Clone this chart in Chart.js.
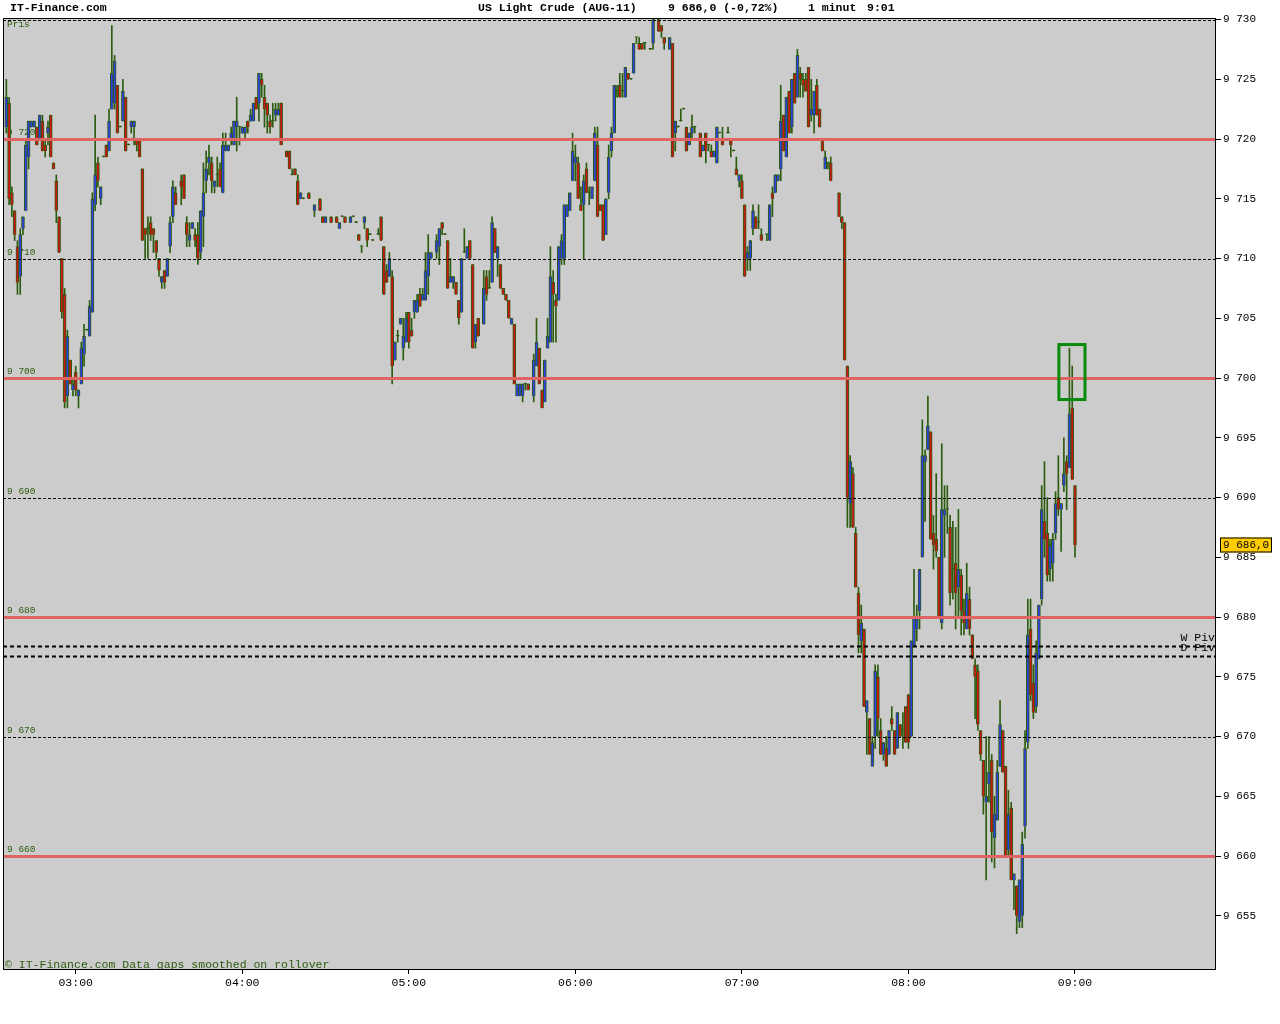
<!DOCTYPE html>
<html>
<head>
<meta charset="utf-8">
<title>US Light Crude (AUG-11) - 1 minut</title>
<script src="https://cdn.jsdelivr.net/npm/chart.js@4.4.0/dist/chart.umd.min.js"></script>
<style>
  html, body { margin: 0; padding: 0; background: #fff; }
  canvas { display: block; }
</style>
</head>
<body>
<canvas id="crudeChart" width="1280" height="1024"></canvas>
<script>
// first 1-minute bar is 02:35 (minutes after midnight)
const firstMinute = 155;

// [open, high, low, close] per minute, null = no trade that minute
const bars0235 = [
  [9721,9725,9720.5,9723.5],[9723,9723.5,9714.5,9715],[9715.5,9716,9713.5,9714.5],[9714,9714,9711.5,9712],[9711,9711.5,9707,9708],
  [9708.5,9712.5,9707,9712],[9712.5,9713.5,9712,9713.5],[9714,9720,9714,9719.5],[9718.5,9721.5,9717.5,9721.5],[9721,9721.5,9721,9721.5],
  [9721,9721.5,9721,9721.5],[9721,9721,9719.5,9719.5],[9720,9722,9720,9722],[9721.5,9722,9719,9719],[9719.5,9720,9718.5,9719],
  [9720.5,9721.5,9719.5,9721],[9722,9722,9718.5,9718.5],[9718,9718,9717.5,9717.5],[9716.5,9717,9713,9714],[9713.5,9713.5,9710.5,9710.5],
  [9710,9710,9705,9705.5],[9707,9707.5,9697.5,9698],[9698.5,9704,9697.5,9703.5],[9701.5,9701.5,9699.5,9699.5],[9699,9700,9698.5,9699.5]
];
const bars0300 = [
  [9700.5,9701,9698.5,9699],[9698.5,9699,9697.5,9699],[9699.5,9703,9699.5,9702.5],[9702,9704.5,9701,9703.5],[9704,9704,9704,9704],
  [9703.5,9706.5,9703.5,9706],[9705.5,9715.5,9705.5,9715],[9714.5,9722,9714,9717],[9718,9718.5,9716,9716.5],[9715,9716,9714.5,9716],
  [9718.5,9718.5,9718.5,9718.5],[9719.5,9719.5,9718.5,9718.5],[9719,9722.5,9719,9721.5],[9722.5,9729.5,9722.5,9725.5],[9723,9727,9722.5,9726.5],
  [9724.5,9724.5,9720.5,9720.5],[9721,9721,9721,9721],[9721.5,9725,9721.5,9724],[9723.5,9723.5,9719,9719],[9719.5,9719.5,9719.5,9719.5],
  [9721,9721.5,9720.5,9721.5],[9721,9721.5,9719.5,9721.5],[9720,9720,9719,9719.5],[9720,9720,9718.5,9718.5],[9717.5,9717.5,9711.5,9711.5],
  [9712.5,9712.5,9710,9712],[9712.5,9713.5,9710,9712.5],[9713,9713.5,9711.5,9712],[9712.5,9712.5,9710.5,9712],[9711.5,9711.5,9710,9710.5],
  [9710,9710,9708.5,9709],[9708,9708.5,9707.5,9708.5],[9709,9709,9707.5,9708],[9708.5,9710,9708.5,9710],[9711,9713.5,9710.5,9713],
  [9713.5,9716.5,9713,9716],[9715.5,9716,9714.5,9714.5],null,[9716.5,9717,9714.5,9716],[9717,9717,9715,9715],
  [9713,9713.5,9711,9712],[9711.5,9713,9711,9712],[9712.5,9713,9712.5,9713],[9712,9712.5,9711,9711.5],[9712,9713,9709.5,9710],
  [9710.5,9714,9710,9714],[9713.5,9718,9711,9715.5],[9716.5,9719,9715.5,9717.5],[9718,9719.5,9717,9718.5],[9718,9718.5,9715.5,9716.5],
  [9716,9716.5,9715.5,9716.5],[9717,9718.5,9716,9717],[9717.5,9718,9716,9716],[9715.5,9720.5,9715.5,9719.5],[9719,9720.5,9719,9719.5],
  [9719,9719.5,9719,9719.5],[9720,9721,9719.5,9720.5],[9719.5,9721.5,9719.5,9721.5],[9721,9723.5,9719,9721.5],[9721,9721,9719.5,9721]
];
const bars0400 = [
  [9720.5,9721,9720.5,9721],[9720.5,9721,9720,9721],[9721.5,9721.5,9720.5,9721],[9721.5,9722.5,9721.5,9722],[9721.5,9723,9721.5,9723],
  [9723.5,9723.5,9722.5,9722.5],[9723,9725.5,9721.5,9725.5],[9725,9725.5,9723.5,9724.5],[9723.5,9724.5,9721,9722.5],[9723,9723,9720.5,9722],
  [9721.5,9722,9720.5,9721],[9721.5,9723,9721,9721.5],[9722,9723,9721.5,9722.5],[9722,9723,9722,9722.5],[9723,9723,9719.5,9719.5],
  null,[9719,9719,9718.5,9718.5],[9719,9719,9717.5,9717.5],[9717,9717.5,9717,9717],[9717.5,9717.5,9717,9717],
  [9716.5,9717,9714.5,9714.5],[9715,9715.5,9715,9715.5],[9715,9715,9715,9715],null,[9715.5,9715.5,9715,9715],
  null,[9714,9714.5,9713.5,9714.5],null,[9715,9715,9714,9714],[9713.5,9713.5,9713,9713],
  [9713,9713.5,9713,9713.5],null,[9713.5,9713.5,9713,9713],null,[9713.5,9713.5,9713,9713],
  [9712.5,9713,9712.5,9713],[9713.5,9713.5,9713.5,9713.5],[9713.5,9713.5,9713,9713],null,[9713,9713.5,9713,9713.5],
  [9713.5,9713.5,9713.5,9713.5],[9713,9713,9713,9713],[9712,9712,9711.5,9711.5],[9711,9711,9710.5,9711],[9713,9713.5,9712.5,9713.5],
  [9712.5,9712.5,9711,9711.5],[9712,9712,9712,9712],[9711.5,9711.5,9711.5,9711.5],null,[9712,9712.5,9712,9712],
  [9713.5,9713.5,9711.5,9711.5],[9711,9711,9707,9707],[9709,9709.5,9708,9708],[9708.5,9710.5,9708.5,9710],[9708.5,9709,9699.5,9701],
  [9701.5,9703,9701.5,9703],[9703.5,9704,9703,9703.5],[9704.5,9705,9704.5,9705],[9702.5,9705,9701.5,9703.5],[9703,9705.5,9703,9705]
];
const bars0500 = [
  [9705.5,9705.5,9702.5,9703],[9704,9705,9703.5,9703.5],[9705.5,9706.5,9705,9706.5],[9705.5,9707,9705.5,9706.5],[9707,9707.5,9706,9706],
  [9706.5,9707.5,9706.5,9707],[9706.5,9710.5,9706.5,9709],[9708.5,9712,9707,9710.5],[9710,9710.5,9710,9710.5],null,
  [9710.5,9712,9710,9711.5],[9711,9712.5,9709.5,9712.5],[9713,9713,9712,9712.5],[9712,9712,9712,9712],[9711.5,9711.5,9707.5,9707.5],
  [9708,9710,9708,9708.5],[9708,9708.5,9707.5,9708.5],[9708,9708,9707,9707],[9706.5,9706.5,9704.5,9705],[9705.5,9710,9705.5,9710],
  [9710.5,9712.5,9710.5,9710.5],[9710,9711,9710,9711],[9711.5,9711.5,9710,9710],[9709.5,9709.5,9702.5,9702.5],[9703,9704.5,9702.5,9704.5],
  [9705,9705,9703.5,9703.5],null,[9704.5,9709,9704.5,9707.5],[9708.5,9709,9706.5,9707],[9707.5,9709,9707.5,9707.5],
  [9708,9713.5,9708,9713],[9712.5,9712.5,9710.5,9710.5],[9710,9711,9708.5,9711],[9709.5,9709.5,9707.5,9707.5],[9707.5,9707.5,9707,9707],
  [9707,9707,9706.5,9706.5],[9706.5,9706.5,9705,9705],[9704.5,9705,9704.5,9705],[9704.5,9704.5,9699.5,9699.5],[9698.5,9699.5,9698.5,9699.5],
  [9698.5,9699.5,9698.5,9699.5],[9698.5,9699.5,9698,9699.5],[9699.5,9699.5,9699,9699.5],[9699.5,9699.5,9699,9699],null,
  [9698.5,9702,9698,9701.5],[9701,9705,9701,9703],[9702.5,9702.5,9699.5,9699.5],[9699,9699,9697.5,9697.5],[9698,9701.5,9698,9701.5],
  [9702.5,9705,9702.5,9703.5],[9703,9711,9703,9708.5],[9708,9709,9703,9707],[9706.5,9707,9703,9706],[9706.5,9711,9706.5,9711],
  [9710,9712,9709.5,9711.5],[9710,9714.5,9709.5,9714.5],[9713.5,9714.5,9713.5,9714.5],[9714,9715.5,9714,9715.5],[9716.5,9720.5,9716.5,9719]
];
const bars0600 = [
  [9718,9719.5,9716.5,9718.5],[9718,9718.5,9715,9715],[9714.5,9716,9714,9714],[9714.5,9717,9710,9716.5],[9717.5,9718,9715.5,9715.5],
  [9715.5,9716,9714.5,9715.5],[9715,9716,9715,9716],[9716.5,9721,9716.5,9720.5],[9719.5,9721,9713.5,9713.5],[9714.5,9714.5,9714,9714],
  [9714.5,9714.5,9711.5,9711.5],[9712,9715,9712,9715],[9715.5,9719.5,9715,9718.5],[9719,9721,9718.5,9720.5],[9720.5,9724.5,9720.5,9724.5],
  [9724,9724.5,9723.5,9724],[9724.5,9725.5,9723.5,9723.5],[9724,9725.5,9723.5,9724],[9723.5,9726,9723.5,9726],[9725.5,9725.5,9725,9725],
  [9725,9725,9725,9725],[9725.5,9728,9725.5,9728],[9728.5,9728.5,9728,9728.5],[9728,9728.5,9727.5,9727.5],[9728,9728,9727.5,9727.5],
  [9728,9728,9727.5,9728],null,[9727.5,9727.5,9727.5,9727.5],[9728,9730,9727.5,9730],null,
  [9730,9730,9729,9729],[9729.5,9729.5,9728.5,9729],[9728.5,9728.5,9727.5,9728],null,[9727.5,9728.5,9727.5,9728.5],
  [9728,9728,9718.5,9718.5],[9720.5,9721.5,9719,9721.5],[9721,9721,9721,9721],[9721.5,9722.5,9721.5,9721.5],[9722.5,9722.5,9722.5,9722.5],
  [9721,9721,9719,9719],[9719.5,9720.5,9719.5,9720.5],[9720.5,9722,9720,9721],[9721,9721,9720.5,9721],null,
  [9720.5,9720.5,9718.5,9718.5],[9719,9719.5,9719,9719.5],[9720.5,9720.5,9718,9719],[9719.5,9719.5,9719,9719.5],[9719,9719.5,9718.5,9718.5],
  [9718.5,9719,9718.5,9719],[9718,9721,9718,9721],[9720.5,9720.5,9720.5,9720.5],[9720,9721,9719.5,9719.5],null,
  [9720.5,9721,9720.5,9720.5],[9720,9720,9718.5,9719.5],[9719,9719,9719,9719],[9717.5,9718.5,9717,9717],[9716.5,9717,9716,9717]
];
const bars0700 = [
  [9716.5,9717,9715,9715],[9714.5,9714.5,9708.5,9708.5],[9710,9711,9709,9710.5],[9710,9711.5,9709,9711.5],[9712.5,9714.5,9712,9714],
  [9713.5,9713.5,9712.5,9712.5],[9713,9714.5,9712.5,9713],[9712,9712.5,9711.5,9711.5],null,[9712,9712,9711.5,9712],
  [9711.5,9714.5,9711.5,9714.5],[9715.5,9716,9713.5,9715],[9715.5,9717,9715.5,9717],[9716.5,9717,9716.5,9717],[9717.5,9724.5,9716.5,9721.5],
  [9722,9722,9719,9719],[9718.5,9723.5,9718.5,9723.5],[9724,9724,9720.5,9720.5],[9721,9725,9720.5,9725],[9725.5,9725.5,9723,9723],
  [9723.5,9727.5,9723.5,9727],[9725.5,9726,9723.5,9725],[9725,9725.5,9723.5,9724.5],[9725,9725.5,9724,9724],[9726,9726,9721,9721],
  [9722,9725,9721.5,9722.5],[9722,9724,9720.5,9724],[9724.5,9725,9722,9722],[9722.5,9722.5,9721,9721],[9720,9720,9719,9719],
  [9717.5,9719,9717.5,9718.5],[9718,9718,9717.5,9718],[9718,9718.5,9716.5,9716.5],null,null,
  [9715.5,9715.5,9713.5,9713.5],[9713.5,9713.5,9712.5,9713],[9713,9713,9701.5,9701.5],[9701,9701,9687.5,9690],[9689.5,9693.5,9687.5,9693],
  [9692,9692.5,9687.5,9687.5],[9687,9687.5,9682.5,9682.5],[9682,9682.5,9677,9678.5],[9678,9681,9677,9679.5],[9679,9679,9672.5,9672.5],
  [9672,9673,9668.5,9673],[9671.5,9671.5,9668.5,9668.5],[9667.5,9670,9667.5,9669.5],[9670,9676,9669,9675.5],[9675,9676,9670,9671.5],
  [9670.5,9671.5,9668.5,9668.5],[9668.5,9669.5,9668,9669.5],[9669,9670,9667.5,9667.5],[9668.5,9670.5,9668.5,9670.5],[9671.5,9672.5,9670.5,9671],
  [9670.5,9670.5,9668.5,9668.5],[9669,9672,9669,9672],[9671,9671,9670,9670],[9670.5,9672,9669,9670.5],[9672.5,9672.5,9669.5,9669.5]
];
const bars0800 = [
  [9673.5,9673.5,9669,9669.5],[9670,9678,9670,9678],[9677.5,9684,9677.5,9680],[9679,9681,9678,9680],[9680.5,9684,9679,9684],
  [9685,9696.5,9685,9693.5],[9693,9694,9688,9693.5],[9694,9698.5,9694,9696],[9695.5,9695.5,9686.5,9686.5],[9687,9688.5,9684,9686],
  [9686.5,9692,9685,9685.5],[9685,9685,9680,9680],[9679.5,9694.5,9679,9689],[9688.5,9691,9685,9689],[9689,9691,9687,9689],
  [9687.5,9688.5,9681,9682],[9684,9688,9681.5,9684],[9684.5,9687.5,9679,9682],[9682.5,9689,9680,9684],[9683.5,9684,9678.5,9680.5],
  [9680.5,9681.5,9678.5,9679.5],[9679,9684.5,9679,9682],[9681.5,9682.5,9678.5,9679],[9678.5,9678.5,9676.5,9676.5],[9676,9676.5,9671.5,9675],
  [9675.5,9676,9670.5,9671],[9670.5,9670.5,9668,9668.5],[9668,9668,9663.5,9665],[9664.5,9670,9658,9665],[9666,9670,9664.5,9667],
  [9668,9668.5,9659.5,9662],[9661.5,9665,9659,9663.5],[9663,9668,9663,9667],[9667.5,9673,9667.5,9671],[9670.5,9670.5,9667,9667],
  [9667.5,9667.5,9660,9660],[9660.5,9665.5,9660,9663.5],[9664,9664.5,9658,9658],[9658,9658.5,9655.5,9658.5],[9657.5,9657.5,9653.5,9655],
  [9654.5,9658,9654,9658],[9655,9662,9654,9661],[9662.5,9670.5,9661.5,9669],[9669.5,9681.5,9669,9678.5],[9679,9681.5,9673,9673.5],
  [9674.5,9676,9671.5,9672],[9672.5,9678,9672,9677],[9676.5,9681,9676.5,9681],[9681.5,9691,9681,9689],[9688,9693,9685,9686.5],
  [9687,9690,9683,9683.5],[9684,9686.5,9683,9686],[9684.5,9687,9683,9686.5],[9687,9690.5,9686.5,9689.5],[9690,9693.5,9688.5,9689],
  [9689,9689.5,9685.5,9689.5],[9691,9695,9690.5,9692],[9693,9693.5,9689,9692],[9692.5,9702.5,9692.5,9697],[9697.5,9701,9691.5,9691.5]
];
const bars0900 = [
  [9691,9691,9685,9686]
];

// horizontal levels
const redLevels = [9720, 9700, 9680, 9660];
const dashedLevels = [9730, 9710, 9690, 9670];
const labelLevels = [9720, 9710, 9700, 9690, 9680, 9670, 9660];
const pivotNames = ['W Piv', 'D Piv'];
const pivotValues = [9677.6, 9676.75];
const lastPrice = 9686.0;
const lastPriceText = '9 686,0';
const siteName = 'IT-Finance.com';
const titleParts = ['US Light Crude (AUG-11)', '9 686,0 (-0,72%)', '1 minut', '9:01'];
const titleX = [478, 668, 808, 867];
const footNote = '\u00a9 IT-Finance.com Data gaps smoothed on rollover';
// green marker round the last bars: minutes and prices
const markFrom = 534.2, markTo = 543.6, markLow = 9698.2, markHigh = 9702.8;

// axis ranges
const xMin = 153.8, xMax = 590.8;
const yMin = 9650.46, yMax = 9730.13;

const upFill = '#3040e6';
const downFill = '#cf1616';
const barEdge = '#2c5c0f';
const plotBg = '#cccccc';
const levelRed = '#e06464';
const monoFont = "'Liberation Mono', 'DejaVu Sans Mono', monospace";

const fmtPrice = v => { const s = String(Math.round(v)); return s.slice(0, -3) + ' ' + s.slice(-3); };
const fmtTime = v => String(Math.floor(v / 60)).padStart(2, '0') + ':' + String(Math.round(v % 60)).padStart(2, '0');

const allBars = [].concat(bars0235, bars0300, bars0400, bars0500, bars0600, bars0700, bars0800, bars0900);
const wickData = [];
const bodyData = [];
const bodyColors = [];
allBars.forEach((b, i) => {
  if (!b) return;
  const [o, h, l, c] = b;
  const x = firstMinute + i;
  wickData.push({ x: x, y: [l, h] });
  bodyData.push({ x: x, y: [Math.min(o, c), Math.max(o, c)] });
  bodyColors.push(c > o ? upFill : (c < o ? downFill : barEdge));
});

// background, level lines, labels and frame
const chartDecor = {
  id: 'chartDecor',
  beforeDraw(chart) {
    const { ctx, chartArea: a } = chart;
    ctx.save();
    ctx.fillStyle = '#fff';
    ctx.fillRect(0, 0, chart.width, chart.height);
    ctx.fillStyle = plotBg;
    ctx.fillRect(a.left, a.top, a.right - a.left, a.bottom - a.top);
    ctx.restore();
  },
  beforeDatasetsDraw(chart) {
    const { ctx, chartArea: a, scales: { y } } = chart;
    ctx.save();
    ctx.fillStyle = barEdge;
    ctx.textAlign = 'left';
    ctx.textBaseline = 'middle';
    ctx.font = '9.5px ' + monoFont;
    ctx.fillText('Pris', a.left + 4, a.top + 6);
    labelLevels.forEach(v => ctx.fillText(fmtPrice(v), a.left + 4, y.getPixelForValue(v) - 6.5));
    ctx.font = '11.5px ' + monoFont;
    ctx.fillText(footNote, a.left + 2, a.bottom - 5.5);
    ctx.restore();
  },
  afterDatasetsDraw(chart) {
    const { ctx, chartArea: a, scales: { x, y } } = chart;
    const hLine = v => {
      const py = Math.round(y.getPixelForValue(v)) + 0.5;
      ctx.beginPath();
      ctx.moveTo(a.left, py);
      ctx.lineTo(a.right, py);
      ctx.stroke();
    };
    ctx.save();
    ctx.beginPath();
    ctx.rect(a.left, a.top, a.right - a.left, a.bottom - a.top);
    ctx.clip();

    ctx.strokeStyle = '#000';
    ctx.lineWidth = 1;
    ctx.setLineDash([3, 2]);
    dashedLevels.forEach(hLine);

    ctx.setLineDash([]);
    ctx.strokeStyle = levelRed;
    ctx.lineWidth = 3;
    redLevels.forEach(hLine);

    ctx.strokeStyle = '#000';
    ctx.lineWidth = 2;
    ctx.setLineDash([4, 3]);
    pivotValues.forEach(hLine);
    ctx.setLineDash([]);

    ctx.fillStyle = '#000';
    ctx.font = '11.5px ' + monoFont;
    ctx.textAlign = 'right';
    ctx.textBaseline = 'middle';
    pivotNames.forEach((n, k) => ctx.fillText(n, a.right - 1, y.getPixelForValue(pivotValues[k]) - 8));

    const bx1 = x.getPixelForValue(markFrom), bx2 = x.getPixelForValue(markTo);
    const by1 = y.getPixelForValue(markHigh), by2 = y.getPixelForValue(markLow);
    ctx.strokeStyle = '#0a8a0a';
    ctx.lineWidth = 3;
    ctx.strokeRect(bx1, by1, bx2 - bx1, by2 - by1);
    ctx.restore();
  },
  afterDraw(chart) {
    const { ctx, chartArea: a, scales: { y } } = chart;
    ctx.save();
    ctx.strokeStyle = '#000';
    ctx.lineWidth = 1;
    ctx.strokeRect(a.left + 0.5, a.top + 0.5, a.right - a.left - 1, a.bottom - a.top - 1);

    ctx.fillStyle = '#000';
    ctx.font = 'bold 11.5px ' + monoFont;
    ctx.textAlign = 'left';
    ctx.textBaseline = 'middle';
    ctx.fillText(siteName, 10, 8.5);
    titleParts.forEach((t, k) => ctx.fillText(t, titleX[k], 8.5));

    // last price tag on the price axis
    const py = Math.round(y.getPixelForValue(lastPrice));
    ctx.fillStyle = '#ffcc00';
    ctx.fillRect(a.right + 4, py - 7.5, 52, 15);
    ctx.strokeRect(a.right + 4.5, py - 7, 51, 14);
    ctx.fillStyle = '#000';
    ctx.font = '11px ' + monoFont;
    ctx.fillText(lastPriceText, a.right + 7, py + 0.5);
    ctx.restore();
  }
};

new Chart(document.getElementById('crudeChart'), {
  type: 'bar',
  data: {
    datasets: [
      {
        label: 'High-Low',
        data: wickData,
        backgroundColor: barEdge,
        barThickness: 1,
        minBarLength: 1,
        grouped: false,
        order: 2
      },
      {
        label: 'Open-Close',
        data: bodyData,
        backgroundColor: bodyColors,
        borderColor: barEdge,
        borderWidth: 1,
        barThickness: 3,
        minBarLength: 1,
        grouped: false,
        order: 1
      }
    ]
  },
  options: {
    responsive: false,
    animation: false,
    devicePixelRatio: 1,
    events: [],
    layout: { padding: { left: 3, top: 18, right: 0, bottom: 0 } },
    plugins: {
      legend: { display: false },
      tooltip: { enabled: false }
    },
    scales: {
      x: {
        type: 'linear',
        min: xMin,
        max: xMax,
        offset: false,
        border: { display: false },
        grid: { offset: false, drawOnChartArea: false, drawTicks: true, tickLength: 4, color: '#000' },
        ticks: {
          stepSize: 60,
          includeBounds: false,
          autoSkip: false,
          maxRotation: 0,
          padding: 2,
          color: '#000',
          font: { family: monoFont, size: 11.5 },
          callback: v => fmtTime(v)
        },
        afterFit: s => { s.height = 54; s.paddingLeft = 0; s.paddingRight = 0; }
      },
      y: {
        position: 'right',
        min: yMin,
        max: yMax,
        border: { display: false },
        grid: { offset: false, drawOnChartArea: false, drawTicks: true, tickLength: 5, color: '#000' },
        ticks: {
          stepSize: 5,
          includeBounds: false,
          autoSkip: false,
          padding: 2,
          color: '#000',
          font: { family: monoFont, size: 11 },
          callback: v => fmtPrice(v)
        },
        afterFit: s => { s.width = 64; s.paddingTop = 0; s.paddingBottom = 0; }
      }
    }
  },
  plugins: [chartDecor]
});
</script>
</body>
</html>
